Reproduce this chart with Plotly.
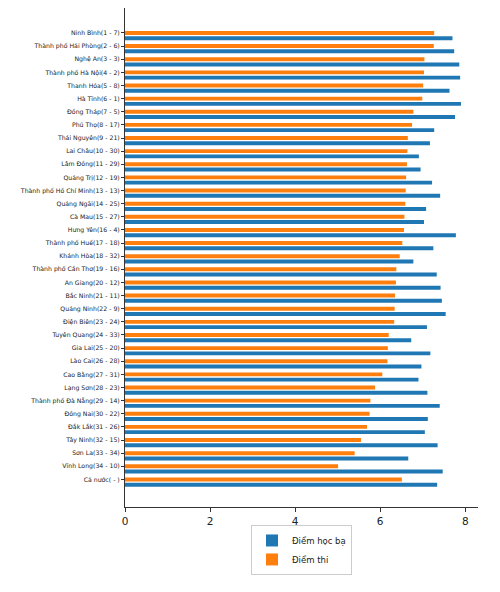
import plotly.graph_objects as go

# provinces, ordered by exam score rank (rank thi - rank hoc ba)
labels = [
    "Ninh Bình(1 - 7)", "Thành phố Hải Phòng(2 - 6)", "Nghệ An(3 - 3)",
    "Thành phố Hà Nội(4 - 2)", "Thanh Hóa(5 - 8)", "Hà Tĩnh(6 - 1)",
    "Đồng Tháp(7 - 5)", "Phú Thọ(8 - 17)", "Thái Nguyên(9 - 21)",
    "Lai Châu(10 - 30)", "Lâm Đồng(11 - 29)", "Quảng Trị(12 - 19)",
    "Thành phố Hồ Chí Minh(13 - 13)", "Quảng Ngãi(14 - 25)", "Cà Mau(15 - 27)",
    "Hưng Yên(16 - 4)", "Thành phố Huế(17 - 18)", "Khánh Hòa(18 - 32)",
    "Thành phố Cần Thơ(19 - 16)", "An Giang(20 - 12)", "Bắc Ninh(21 - 11)",
    "Quảng Ninh(22 - 9)", "Điện Biên(23 - 24)", "Tuyên Quang(24 - 33)",
    "Gia Lai(25 - 20)", "Lào Cai(26 - 28)", "Cao Bằng(27 - 31)",
    "Lạng Sơn(28 - 23)", "Thành phố Đà Nẵng(29 - 14)", "Đồng Nai(30 - 22)",
    "Đắk Lắk(31 - 26)", "Tây Ninh(32 - 15)", "Sơn La(33 - 34)",
    "Vĩnh Long(34 - 10)", "Cả nước( - )",
]

diem_thi = [
    7.27, 7.26, 7.04, 7.03, 7.01, 6.99, 6.78, 6.75, 6.65, 6.64, 6.63, 6.61,
    6.60, 6.59, 6.57, 6.56, 6.52, 6.46, 6.38, 6.37, 6.35, 6.34, 6.33, 6.20,
    6.18, 6.17, 6.05, 5.88, 5.77, 5.75, 5.69, 5.55, 5.40, 5.01, 6.51,
]

diem_hoc_ba = [
    7.70, 7.74, 7.86, 7.88, 7.63, 7.90, 7.76, 7.27, 7.17, 6.91, 6.95, 7.22,
    7.41, 7.08, 7.03, 7.78, 7.25, 6.78, 7.33, 7.42, 7.45, 7.54, 7.10, 6.73,
    7.18, 6.97, 6.90, 7.11, 7.40, 7.12, 7.05, 7.35, 6.66, 7.47, 7.34,
]

pos = list(range(len(labels)))
blue = "#1f77b4"
orange = "#ff7f0e"

fig = go.Figure()
fig.add_trace(go.Bar(
    x=diem_hoc_ba, y=[p + 0.4 for p in pos], orientation="h",
    name="Điểm học bạ", marker=dict(color=blue, line=dict(width=0)), width=0.3,
))
fig.add_trace(go.Bar(
    x=diem_thi, y=pos, orientation="h",
    name="Điểm thi", marker=dict(color=orange, line=dict(width=0)), width=0.3,
))

# the page body adds ~8px around the figure, margins allow for it
fig.update_layout(
    width=500, height=592,
    margin=dict(l=117, r=30, t=0, b=93, autoexpand=False),
    paper_bgcolor="white", plot_bgcolor="white",
    barmode="overlay",
    font=dict(family="DejaVu Sans", color="#222"),
    showlegend=True,
    legend=dict(
        x=0.5, xanchor="center", y=-0.036, yanchor="top",
        orientation="v", traceorder="normal",
        bordercolor="#cccccc", borderwidth=1,
        font=dict(size=8.5), tracegroupgap=0,
    ),
)
fig.update_xaxes(
    range=[0, 8.3], tickvals=[0, 2, 4, 6, 8],
    showgrid=False, zeroline=False, automargin=False,
    showline=True, linecolor="#333", linewidth=1,
    ticks="outside", ticklen=4, tickcolor="#333",
    tickfont=dict(size=10.5),
)
fig.update_yaxes(
    range=[36.1, -1.9], tickvals=pos, ticktext=labels,
    showgrid=False, zeroline=False, automargin=False,
    showline=True, linecolor="#333", linewidth=1,
    ticks="outside", ticklen=3, tickcolor="#333",
    tickfont=dict(size=6.2),
)

fig.write_html("out.html")
